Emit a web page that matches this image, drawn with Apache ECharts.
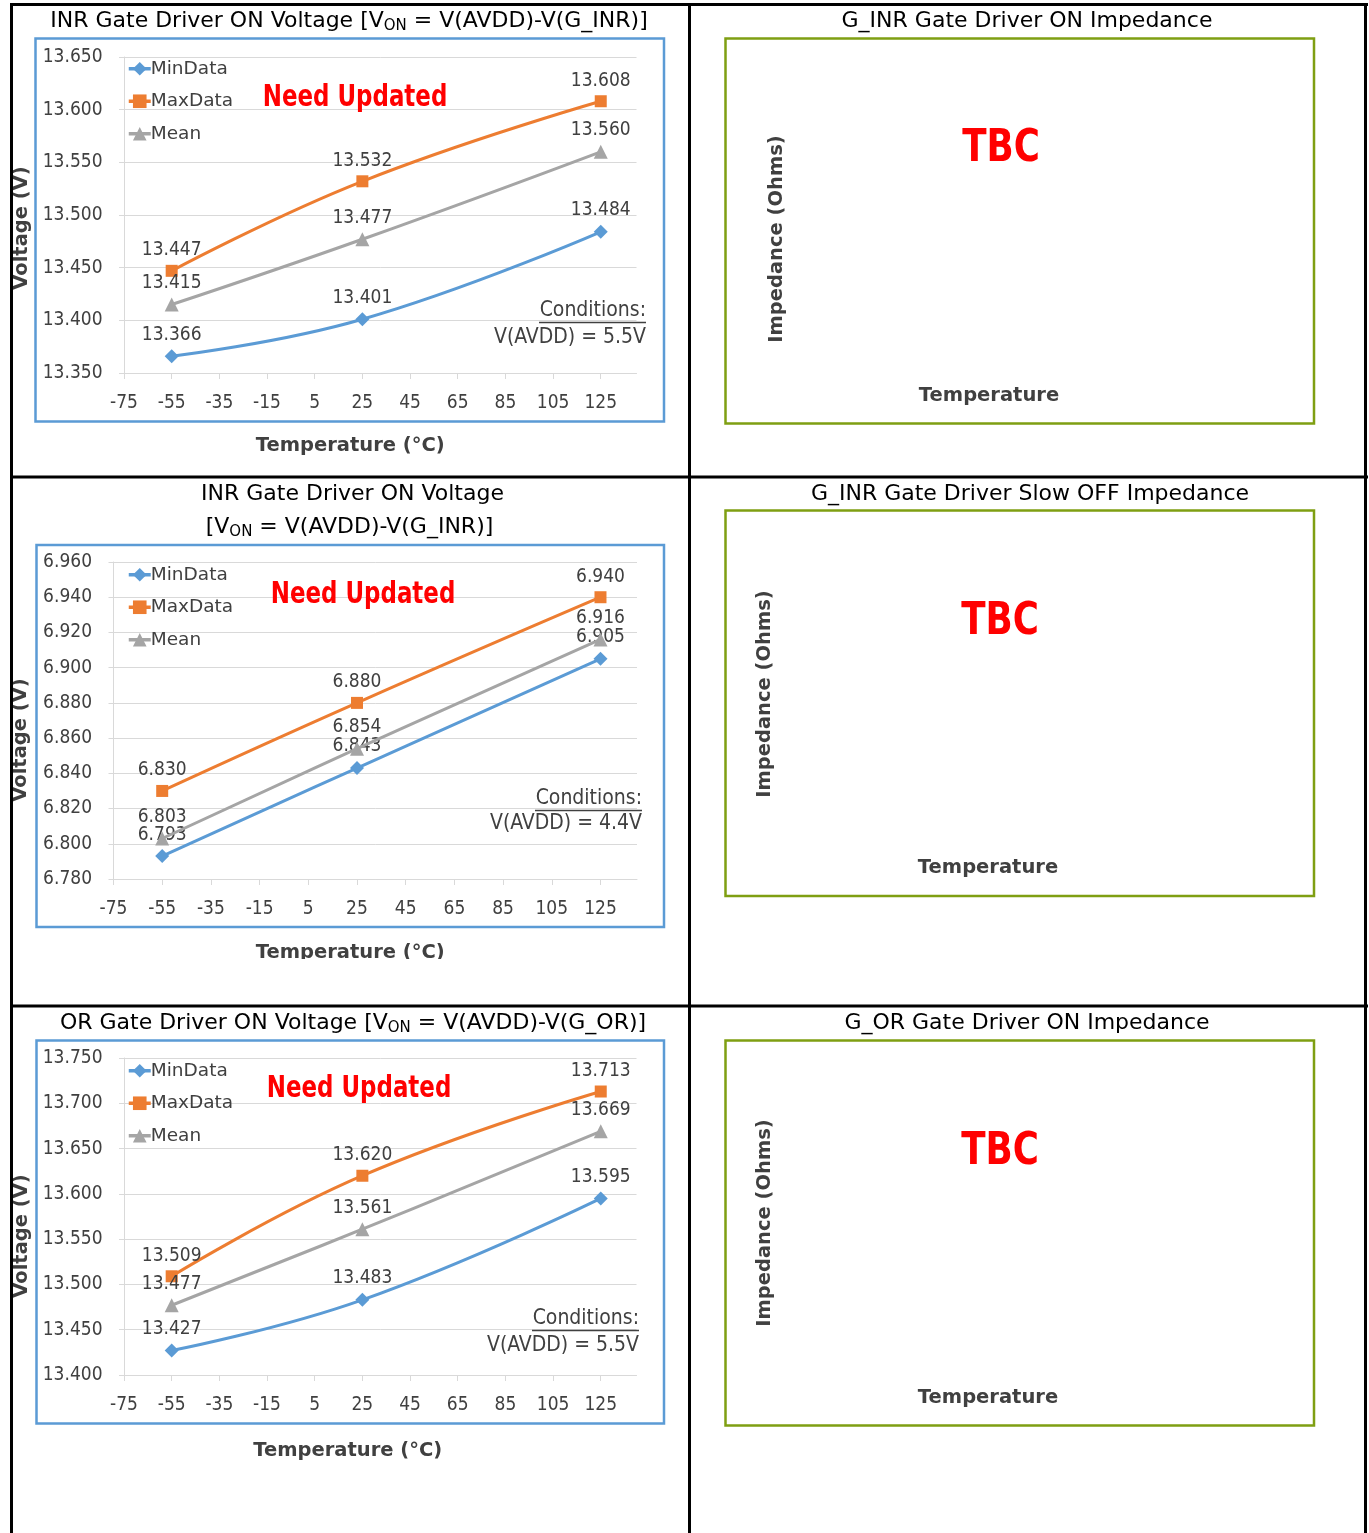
<!DOCTYPE html>
<html>
<head>
<meta charset="utf-8">
<script src="https://cdn.jsdelivr.net/npm/echarts@6/dist/echarts.min.js"></script>
<style>
html,body{margin:0;padding:0;background:#fff;}
#main{width:1369px;height:1533px;}
</style>
</head>
<body>
<div id="main"></div>
<script>
// ---------- data ----------
const xTicks = [-75, -55, -35, -15, 5, 25, 45, 65, 85, 105, 125];
const temps = [-55, 25, 125];
const seriesNames = ['MinData', 'MaxData', 'Mean'];

const c1Min = [13.366, 13.401, 13.484];
const c1Max = [13.447, 13.532, 13.608];
const c1Mean = [13.415, 13.477, 13.560];

const c2Min = [6.793, 6.843, 6.905];
const c2Max = [6.830, 6.880, 6.940];
const c2Mean = [6.803, 6.854, 6.916];

const c3Min = [13.427, 13.483, 13.595];
const c3Max = [13.509, 13.620, 13.713];
const c3Mean = [13.477, 13.561, 13.669];

const c1Y = {min: 13.35, max: 13.65, interval: 0.05};
const c2Y = {min: 6.78, max: 6.96, interval: 0.02};
const c3Y = {min: 13.40, max: 13.75, interval: 0.05};

const conditions = ['V(AVDD) = 5.5V', 'V(AVDD) = 4.4V', 'V(AVDD) = 5.5V'];

// ---------- styling ----------
const FF = "'DejaVu Sans Condensed', 'DejaVu Sans', sans-serif";
const FW = "'DejaVu Sans', sans-serif";
const GRAY = '#404040';
const GRID = '#D9D9D9';
const COLORS = ['#5B9BD5', '#ED7D31', '#A5A5A5'];
const SYMBOLS = ['diamond', 'rect', 'triangle'];
const SYMSIZE = [14, 12, 14];

const chart = echarts.init(document.getElementById('main'), null, {renderer: 'canvas'});

const grids = [
  {left: 124, top: 57, width: 512.5, height: 316},
  {left: 113.5, top: 562, width: 523.5, height: 317},
  {left: 124, top: 1058, width: 512.5, height: 317}
];
const nameCfg = [
  {gap: 63, pad: 60},
  {gap: 64, pad: 50},
  {gap: 66, pad: 65}
];
const yCfgs = [c1Y, c2Y, c3Y];

const xAxes = grids.map((g, i) => ({
  gridIndex: i, type: 'value', min: -75, max: 140,
  axisLine: {show: true, onZero: false, lineStyle: {color: GRID, width: 1}},
  axisTick: {show: true, length: 6, customValues: xTicks, lineStyle: {color: GRID}},
  axisLabel: {customValues: xTicks, color: GRAY, fontSize: 19, fontFamily: FF, margin: 21},
  splitLine: {show: false},
  name: 'Temperature (°C)', nameLocation: 'middle', nameGap: nameCfg[i].gap,
  nameTextStyle: {color: GRAY, fontSize: 19.5, fontWeight: 'bold', fontFamily: FW, padding: [0, nameCfg[i].pad, 0, 0]}
}));

const yAxes = yCfgs.map((y, i) => ({
  gridIndex: i, type: 'value', min: y.min, max: y.max, interval: y.interval,
  axisLine: {show: true, onZero: false, lineStyle: {color: GRID, width: 1}},
  axisTick: {show: true, length: 5, lineStyle: {color: GRID}},
  axisLabel: {color: GRAY, fontSize: 19, fontFamily: FF, margin: 21.5, formatter: v => v.toFixed(3)},
  splitLine: {show: true, lineStyle: {color: GRID, width: 1}}
}));

const dataSets = [[c1Min, c1Max, c1Mean], [c2Min, c2Max, c2Mean], [c3Min, c3Max, c3Mean]];
const series = [];
dataSets.forEach((set, gi) => {
  set.forEach((vals, si) => {
    series.push({
      name: seriesNames[si], type: 'line', xAxisIndex: gi, yAxisIndex: gi,
      data: temps.map((t, k) => [t, vals[k]]),
      smooth: 0.45,
      symbol: SYMBOLS[si], symbolSize: SYMSIZE[si],
      lineStyle: {color: COLORS[si], width: 3},
      itemStyle: {color: COLORS[si]},
      label: {show: true, position: 'top', distance: 5, color: GRAY, fontSize: 19, fontFamily: FF,
        formatter: p => p.value[1].toFixed(3)},
      z: 2 + si
    });
  });
});

const legendTops = [57.5, 563.5, 1059.5];
const legends = legendTops.map(t => ({
  left: 127, top: t, orient: 'vertical', padding: 0, itemGap: 10, itemWidth: 22, itemHeight: 17,
  lineStyle: {width: 3.5},
  textStyle: {color: GRAY, fontSize: 18.5, fontFamily: FW, lineHeight: 22.5, padding: [0, 0, 0, -5]},
  data: seriesNames
}));

// ---------- graphics ----------
const G = [];
function line(x1, y1, x2, y2, color, w) {
  G.push({type: 'line', shape: {x1, y1, x2, y2}, style: {stroke: color, lineWidth: w}, z: 50});
}
function rect(x, y, w, h, color, lw) {
  G.push({type: 'rect', shape: {x, y, width: w, height: h}, style: {fill: null, stroke: color, lineWidth: lw}, z: 40});
}
function text(t, x, y, opts) {
  const o = Object.assign({size: 22, color: '#000', weight: 'normal', align: 'center', valign: 'middle', rot: 0, sx: 1, rich: null, font: FW}, opts || {});
  const el = {type: 'text', x, y, rotation: o.rot, scaleX: o.sx, z: 45,
    style: {text: t, fill: o.color, fontSize: o.size, fontFamily: o.font, fontWeight: o.weight, align: o.align, verticalAlign: o.valign}};
  if (o.rich) el.style.rich = o.rich;
  G.push(el);
}

// white mask that clips the 2nd chart's x-axis title as in the reference
G.push({type: 'rect', shape: {x: 13, y: 959, width: 674, height: 45}, style: {fill: '#fff'}, z: 30});

// table lines
line(10, 4.5, 1368, 4.5, '#000', 3);
line(11.5, 3, 11.5, 1533, '#000', 3);
line(689.5, 3, 689.5, 1533, '#000', 3);
line(1365.5, 3, 1365.5, 1533, '#000', 3);
line(10, 477, 1368, 477, '#000', 3);
line(10, 1006, 1368, 1006, '#000', 3);

// chart frames
rect(35.5, 38.5, 628.5, 383, '#5B9BD5', 2.5);
rect(36.5, 545, 627.5, 382, '#5B9BD5', 2.5);
rect(36.5, 1040.5, 627.5, 383, '#5B9BD5', 2.5);
const GREEN = '#7F9F12';
rect(725.5, 38.5, 588.5, 385, GREEN, 2.5);
rect(725.5, 510.5, 588.5, 385.5, GREEN, 2.5);
rect(725.5, 1040.5, 588.5, 385, GREEN, 2.5);

// titles
const titleRich = {a: {fontSize: 22, fontFamily: FW, color: '#000'}, s: {fontSize: 15, fontFamily: FW, color: '#000', padding: [10, 0, 0, 0]}};
text('{a|INR Gate Driver ON Voltage [V}{s|ON}{a| = V(AVDD)-V(G_INR)]}', 349, 21, {rich: titleRich});
text('INR Gate Driver ON Voltage', 352.5, 494, {});
text('{a|[V}{s|ON}{a| = V(AVDD)-V(G_INR)]}', 349.5, 527, {rich: titleRich});
text('{a|OR Gate Driver ON Voltage [V}{s|ON}{a| = V(AVDD)-V(G_OR)]}', 353, 1023, {rich: titleRich});
text('G_INR Gate Driver ON Impedance', 1027, 21, {});
text('G_INR Gate Driver Slow OFF Impedance', 1030, 494, {});
text('G_OR Gate Driver ON Impedance', 1027, 1023, {});

// y axis names
const yn = [[22, 228], [21, 740], [22, 1236]];
yn.forEach(p => text('Voltage (V)', p[0], p[1], {rot: Math.PI / 2, weight: 'bold', color: GRAY, size: 19.5}));

// Need Updated
const nu = [[355, 98], [363, 595], [359, 1089]];
nu.forEach(p => text('Need Updated', p[0], p[1], {size: 30, weight: 'bold', color: '#FF0000', sx: 0.85, font: FF}));

// conditions
const cond = [[646, 311, 338], [642, 799, 824], [639, 1319, 1346]];
cond.forEach((c, i) => {
  text('Conditions:', c[0], c[1], {align: 'right', color: GRAY, size: 21, font: FF});
  text(conditions[i], c[0], c[2], {align: 'right', color: GRAY, size: 21, font: FF});
  line(c[0] - 107, c[1] + 11.5, c[0], c[1] + 11.5, GRAY, 1.5);
});

// TBC panels
const tbc = [
  {imp: [777, 239], tbc: [1001, 150], tmp: [989, 396]},
  {imp: [765, 694], tbc: [1000, 623], tmp: [988, 868]},
  {imp: [765, 1223], tbc: [1000, 1153], tmp: [988, 1398]}
];
tbc.forEach(p => {
  text('Impedance (Ohms)', p.imp[0], p.imp[1], {rot: Math.PI / 2, weight: 'bold', color: GRAY, size: 19.5});
  text('TBC', p.tbc[0], p.tbc[1], {size: 44, weight: 'bold', color: '#FF0000', sx: 0.9, font: FF});
  text('Temperature', p.tmp[0], p.tmp[1], {weight: 'bold', color: GRAY, size: 19.5});
});

chart.setOption({
  animation: false,
  backgroundColor: '#fff',
  grid: grids,
  xAxis: xAxes,
  yAxis: yAxes,
  legend: legends,
  series: series,
  graphic: {elements: G}
});
</script>
</body>
</html>
